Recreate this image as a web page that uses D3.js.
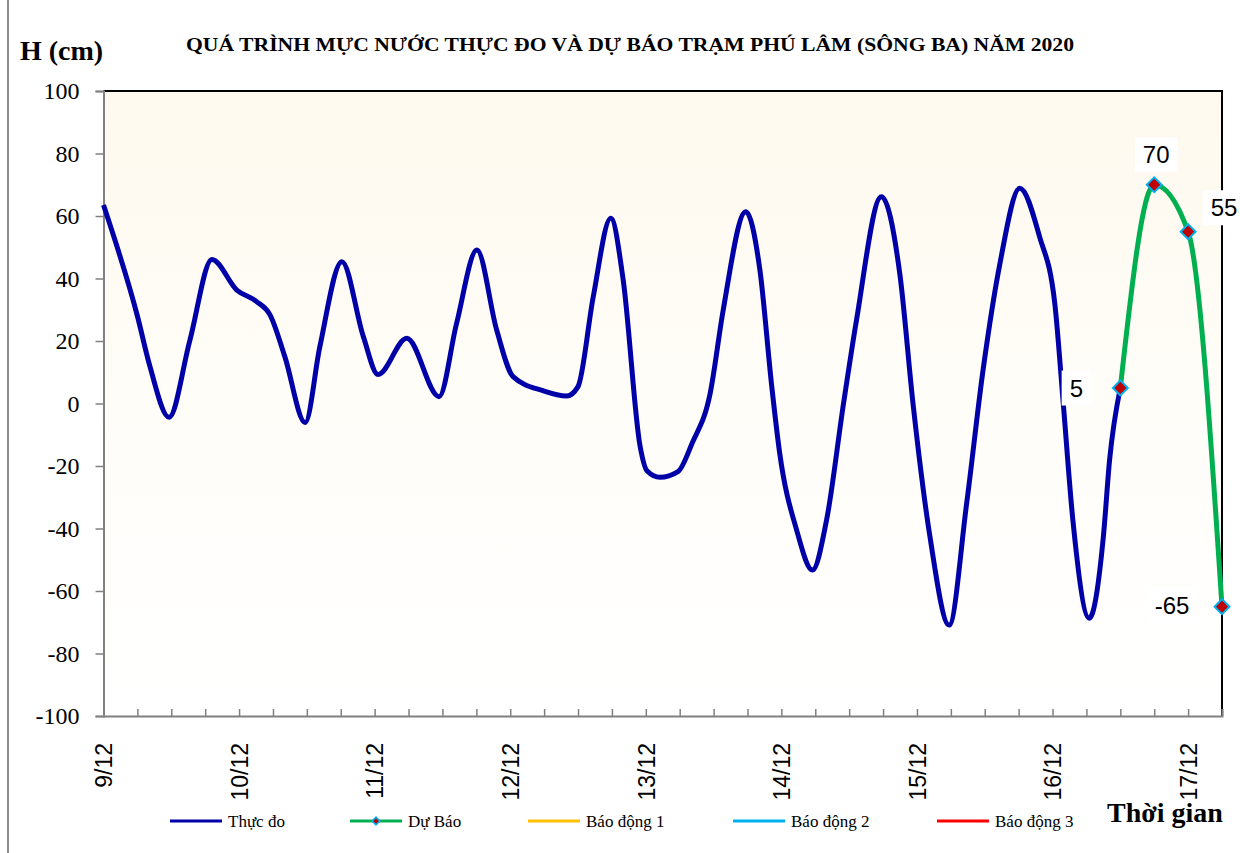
<!DOCTYPE html>
<html>
<head>
<meta charset="utf-8">
<script src="https://cdn.jsdelivr.net/npm/d3@7"></script>
<style>
	body { margin: 0; background: #ffffff; }
	svg { display: block; }
</style>
</head>
<body>
<div id="chartContainer"></div>
<script>
// observed water level (hours after 9/12 00h, cm)
var obsHours = [0, 6, 8.2, 11.6, 15.3, 19.2, 23.6, 27.1, 29.5, 32.1, 35.7, 38.3, 42.2, 46.0, 48.6, 53.7, 59.4, 62.5, 66.1, 69.6,
	72.5, 77.8, 82.0, 84.0, 86.7, 89.8, 92.0, 95.0, 96.2, 98.5, 101.7, 104.2, 107.4, 109.7, 113.7, 116.2, 118.3, 119.7,
	122.7, 125.5, 128.0, 131.0, 133.3, 137.7, 141.0, 143.3, 146.3, 149.7, 152.8, 155.7, 158.7, 162.2, 165.7, 168.4,
	169.9, 171.6, 174.5, 177.0, 178.1, 180];
var obsValues = [63.5, 28, 12, -4.4, 20.3, 46.1, 36.3, 32.6, 28.3, 15, -6.1, 18.2, 45.4, 21.4, 9.3, 20.9, 2.2, 25.6, 49.1, 23.5,
	8.6, 4.1, 2.4, 5.4, 34.2, 59.3, 39.5, -13.8, -21.5, -23.6, -21.8, -12.7, 3.3, 29.9, 61.4, 42.7, 5.4, -15.9,
	-40.5, -53.3, -37.3, 0, 26.7, 66.2, 41, 0, -42.6, -70.9, -31.9, 10.7, 44.9, 68.9, 53.4, 32,
	0, -37.3, -68.7, -42.6, -18.1, 5];

// forecast
var fcHours = [180, 186, 192, 198];
var fcValues = [5, 70, 55, -65];

var dayHours = [0, 24, 48, 72, 96, 120, 144, 168, 192];
var dayLabels = ["9/12", "10/12", "11/12", "12/12", "13/12", "14/12", "15/12", "16/12", "17/12"];
var yTicks = [-100, -80, -60, -40, -20, 0, 20, 40, 60, 80, 100];

var legendNames = ["Thực đo", "Dự Báo", "Báo động 1", "Báo động 2", "Báo động 3"];
var legendColors = ["#0000a8", "#00b050", "#ffc000", "#00b0f0", "#ff0000"];

var titleText = "QUÁ TRÌNH MỰC NƯỚC THỰC ĐO VÀ DỰ BÁO TRẠM PHÚ LÂM (SÔNG BA) NĂM 2020";

var serif = "'Liberation Serif', 'Times New Roman', serif";
var sans = "'Liberation Sans', Arial, sans-serif";

function drawChart() {
	var width = 1240, height = 853;
	var plot = {left: 103.5, right: 1222, top: 91, bottom: 716};

	var svg = d3.select("#chartContainer")
		.append("svg")
		.attr("width", width)
		.attr("height", height);

	// plot background gradient
	var grad = svg.append("defs").append("linearGradient")
		.attr("id", "plotBg")
		.attr("x1", 0).attr("y1", 0).attr("x2", 0).attr("y2", 1);
	grad.append("stop").attr("offset", "0%").attr("stop-color", "#fef9ee");
	grad.append("stop").attr("offset", "50%").attr("stop-color", "#fffdf8");
	grad.append("stop").attr("offset", "100%").attr("stop-color", "#ffffff");

	// outer chart border (left edge only visible)
	svg.append("line")
		.attr("x1", 8).attr("x2", 8).attr("y1", 0).attr("y2", height)
		.attr("stroke", "#8c8c8c").attr("stroke-width", 2);

	svg.append("rect")
		.attr("x", plot.left).attr("y", plot.top)
		.attr("width", plot.right - plot.left).attr("height", plot.bottom - plot.top)
		.attr("fill", "url(#plotBg)");

	var x = d3.scaleLinear().domain([0, 198]).range([plot.left, plot.right]);
	var y = d3.scaleLinear().domain([-100, 100]).range([plot.bottom, plot.top]);

	// top and right frame
	svg.append("path")
		.attr("d", "M" + plot.left + "," + plot.top + "H" + plot.right + "V" + plot.bottom)
		.attr("fill", "none").attr("stroke", "#000").attr("stroke-width", 2);

	// y axis
	var yAxis = svg.append("g")
		.attr("transform", "translate(" + plot.left + ",0)")
		.call(d3.axisLeft(y).tickValues(yTicks).tickSize(8).tickPadding(16)
			.tickFormat(function(d) { return String(d); }));
	yAxis.selectAll("text")
		.style("font-family", serif)
		.style("font-size", "24px")
		.attr("fill", "#000");

	// x axis
	var xAxis = svg.append("g")
		.attr("transform", "translate(0," + plot.bottom + ")")
		.call(d3.axisBottom(x)
			.tickValues(d3.range(0, 199, 6))
			.tickSize(-7)
			.tickFormat(function(h) {
				var i = dayHours.indexOf(h);
				return i >= 0 ? dayLabels[i] : "";
			}));
	xAxis.selectAll("text")
		.attr("transform", "rotate(-90)")
		.attr("x", -27)
		.attr("y", 0)
		.attr("dy", "0.36em")
		.style("text-anchor", "end")
		.style("font-family", sans)
		.style("font-size", "23px")
		.attr("fill", "#000");

	svg.selectAll(".domain").attr("stroke", "#808080").attr("stroke-width", 2);
	svg.selectAll(".tick line").attr("stroke", "#808080").attr("stroke-width", 1.5);

	// observed line
	var obsData = obsHours.map(function(h, i) { return {h: h, v: obsValues[i]}; });
	svg.append("path")
		.datum(obsData)
		.attr("fill", "none")
		.attr("stroke", legendColors[0])
		.attr("stroke-width", 5)
		.attr("stroke-linejoin", "round")
		.attr("d", d3.line()
			.curve(d3.curveMonotoneX)
			.x(function(d) { return x(d.h); })
			.y(function(d) { return y(d.v); }));

	// forecast line
	var fcData = fcHours.map(function(h, i) { return {h: h, v: fcValues[i]}; });
	svg.append("path")
		.datum(fcData)
		.attr("fill", "none")
		.attr("stroke", legendColors[1])
		.attr("stroke-width", 5)
		.attr("d", d3.line()
			.curve(d3.curveMonotoneX)
			.x(function(d) { return x(d.h); })
			.y(function(d) { return y(d.v); }));

	var diamond = d3.symbol().type(d3.symbolSquare).size(110);
	svg.selectAll(".fcMarker")
		.data(fcData)
		.enter()
		.append("path")
		.attr("d", diamond)
		.attr("transform", function(d) { return "translate(" + x(d.h) + "," + y(d.v) + ") rotate(45)"; })
		.attr("fill", "#c00000")
		.attr("stroke", "#00b0f0")
		.attr("stroke-width", 2);

	// data labels with white boxes
	var labelDx = [-44, 2, 36, -50];
	var labelDy = [0, -30, -24, -1];
	fcData.forEach(function(d, i) {
		var g = svg.append("g");
		var box = g.append("rect").attr("fill", "#fff");
		var t = g.append("text")
			.attr("x", x(d.h) + labelDx[i])
			.attr("y", y(d.v) + labelDy[i])
			.attr("dy", "0.36em")
			.attr("text-anchor", "middle")
			.style("font-family", sans)
			.style("font-size", "24px")
			.text(d.v);
		var bb = t.node().getBBox();
		box.attr("x", bb.x - 8).attr("y", bb.y - 4)
			.attr("width", bb.width + 16).attr("height", bb.height + 8);
	});

	// title and axis names
	svg.append("text")
		.attr("x", 630).attr("y", 51)
		.attr("text-anchor", "middle")
		.attr("textLength", 888)
		.attr("lengthAdjust", "spacingAndGlyphs")
		.style("font-family", serif)
		.style("font-weight", "bold")
		.style("font-size", "18px")
		.text(titleText);

	svg.append("text")
		.attr("x", 20).attr("y", 60)
		.style("font-family", serif)
		.style("font-weight", "bold")
		.style("font-size", "28px")
		.text("H (cm)");

	svg.append("text")
		.attr("x", 1107).attr("y", 822)
		.style("font-family", serif)
		.style("font-weight", "bold")
		.style("font-size", "28px")
		.text("Thời gian");

	// legend
	var legendX = [170, 350, 528, 733, 937];
	var legendY = 821;
	legendNames.forEach(function(name, i) {
		svg.append("line")
			.attr("x1", legendX[i]).attr("x2", legendX[i] + 52)
			.attr("y1", legendY).attr("y2", legendY)
			.attr("stroke", legendColors[i]).attr("stroke-width", 3);
		if (i == 1) {
			svg.append("path")
				.attr("d", d3.symbol().type(d3.symbolSquare).size(30))
				.attr("transform", "translate(" + (legendX[i] + 26) + "," + legendY + ") rotate(45)")
				.attr("fill", "#c00000")
				.attr("stroke", "#00b0f0")
				.attr("stroke-width", 1.5);
		}
		svg.append("text")
			.attr("x", legendX[i] + 58)
			.attr("y", legendY + 6)
			.style("font-family", serif)
			.style("font-size", "17px")
			.text(name);
	});
}

drawChart();
</script>
</body>
</html>
